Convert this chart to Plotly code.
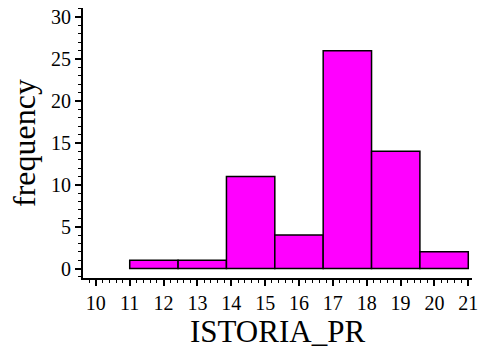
import plotly.graph_objects as go

bin_start = 11
bin_end = 21
counts = [1, 1, 11, 4, 26, 14, 2]
x_ticks = list(range(10, 22))
y_ticks = [0, 5, 10, 15, 20, 25, 30]

n = len(counts)
w = (bin_end - bin_start) / n
centers = [bin_start + w * (i + 0.5) for i in range(n)]

fig = go.Figure()
fig.add_trace(go.Bar(
    x=centers, y=counts, width=[w] * n,
    marker=dict(color="#ff00ff", line=dict(color="black", width=1.5)),
))

font = "Liberation Serif"
fig.update_layout(
    width=479, height=356,
    margin=dict(l=83, r=7, t=8, b=78),
    plot_bgcolor="white", paper_bgcolor="white",
    showlegend=False,
    font=dict(family=font, color="black"),
)
fig.update_xaxes(
    range=[9.62, 21.11], automargin=False,
    tickvals=x_ticks, ticktext=[str(v) for v in x_ticks],
    ticks="outside", ticklen=6, tickwidth=1.5, tickcolor="black",
    minor=dict(dtick=0.2, tick0=0, ticks="outside", ticklen=3, tickwidth=1, tickcolor="black", showgrid=False),
    showline=True, linecolor="black", linewidth=2,
    showgrid=False, zeroline=False,
    tickfont=dict(size=20, family=font, color="black"),
    title=dict(text="ISTORIA_PR", font=dict(size=31, family=font, color="black"), standoff=4),
)
fig.update_yaxes(
    range=[-1.12, 31.1], automargin=False,
    tickvals=y_ticks, ticktext=[str(v) for v in y_ticks],
    ticks="outside", ticklen=6, tickwidth=1.5, tickcolor="black",
    minor=dict(dtick=1, tick0=0, ticks="outside", ticklen=3, tickwidth=1, tickcolor="black", showgrid=False),
    showline=True, linecolor="black", linewidth=2,
    showgrid=False, zeroline=False,
    tickfont=dict(size=20, family=font, color="black"),
    title=dict(text="frequency", font=dict(size=32, family=font, color="black"), standoff=6),
)
fig.write_html("out.html", config={"displayModeBar": False},
               post_script="document.body.style.margin='0';document.body.style.padding='0';")
